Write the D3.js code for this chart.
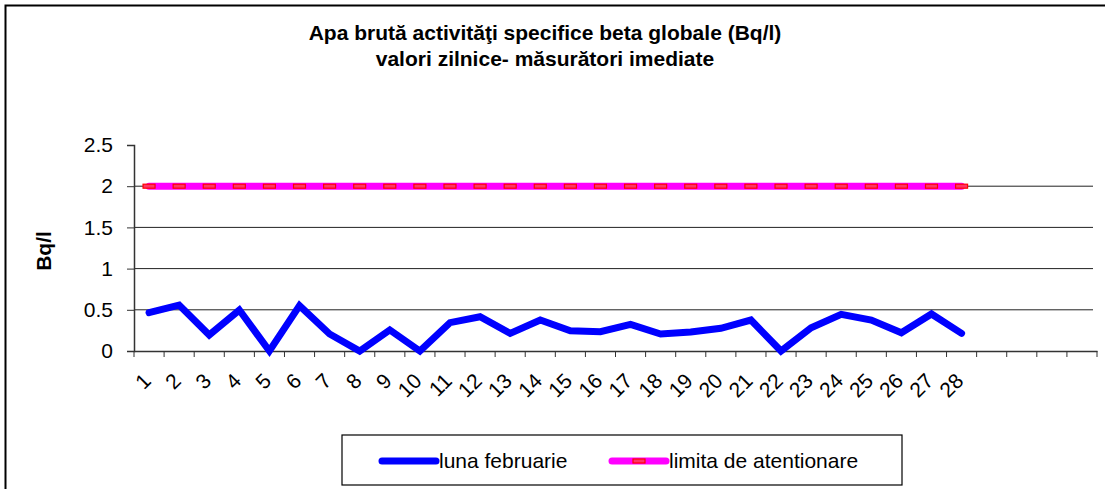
<!DOCTYPE html>
<html><head><meta charset="utf-8">
<script src="https://cdn.jsdelivr.net/npm/d3@7"></script>
<style>body{margin:0;background:#fff}svg{display:block;font-family:"Liberation Sans",Arial,sans-serif}</style>
</head><body>
<svg id="c" width="1105" height="489"></svg>
<script>
const categories = d3.range(1, 33).map(String); // 32 slots, 1..28 labelled
const tickLabels = d3.range(1, 29).map(String);
const days = d3.range(1, 29).map(String);
const valuesFeb = [0.465,0.558,0.194,0.497,0.0,0.55,0.206,0.0,0.255,0.0,0.344,0.416,0.214,0.376,0.246,0.234,0.324,0.206,0.231,0.275,0.376,0.0,0.283,0.445,0.376,0.222,0.449,0.214];
const valuesLimit = days.map(() => 2);
const yTicks = [0, 0.5, 1, 1.5, 2, 2.5];
const titleLines = ["Apa brută activităţi specifice beta globale (Bq/l)", "valori zilnice- măsurători imediate"];

const svg = d3.select("#c");
// outer frame
svg.append("rect").attr("x",5.5).attr("y",5.5).attr("width",1110).attr("height",500)
  .attr("fill","none").attr("stroke","#000").attr("stroke-width",2);

const L = 134, R = 1097, T = 145, B = 351;
const x = d3.scaleBand().domain(categories).range([L, R]);
const y = d3.scaleLinear().domain([0, 2.5]).range([B, T]);
const cx = d => x(d) + x.bandwidth()/2;

// title
svg.append("g").selectAll("text").data(titleLines).join("text")
  .attr("x", 545).attr("y", (d,i) => 40 + i*26).attr("text-anchor","middle")
  .attr("font-weight","bold").attr("font-size",21).text(d => d);

// gridlines
svg.append("g").selectAll("line").data(yTicks.filter(v => v > 0 && v < 2.5)).join("line")
  .attr("x1", L).attr("x2", R - 4).attr("y1", d => y(d)).attr("y2", d => y(d))
  .attr("stroke", "#222").attr("stroke-width", 1);

// y axis
const ya = svg.append("g").attr("transform", `translate(${L},0)`)
  .call(d3.axisLeft(y).tickValues(yTicks).tickSize(7).tickPadding(14).tickFormat(d3.format("")));
ya.select(".domain").attr("stroke","#333").attr("stroke-width",1.5);
ya.selectAll(".tick line").attr("stroke","#333");
ya.selectAll("text").attr("font-size",21).attr("fill","#000").attr("font-family","Liberation Sans, Arial, sans-serif");

// x axis
const xa = svg.append("g").attr("transform", `translate(0,${B})`)
  .call(d3.axisBottom(x).tickSize(0).tickFormat(""));
xa.select(".domain").attr("stroke","#333").attr("stroke-width",1.5);
const bounds = categories.map(c => x(c)).concat([R]);
svg.append("g").selectAll("line").data(bounds).join("line")
  .attr("x1", d => d).attr("x2", d => d).attr("y1", B).attr("y2", B + 6)
  .attr("stroke","#333").attr("stroke-width",1);
svg.append("g").selectAll("text").data(tickLabels).join("text")
  .attr("transform", d => `translate(${cx(d) - 2},${B + 26}) rotate(-45)`)
  .attr("text-anchor","end").attr("dy","0.35em").attr("font-size",21).text(d => d);

// y label
svg.append("text").attr("transform","translate(51,251) rotate(-90)")
  .attr("text-anchor","middle").attr("font-weight","bold").attr("font-size",21).text("Bq/l");

// limit line
const lineGen = d3.line().x((d,i) => cx(days[i])).y(d => y(d));
svg.append("path").datum(valuesLimit).attr("d", lineGen).attr("fill","none")
  .attr("stroke","#ff00ff").attr("stroke-width",7).attr("stroke-linecap","round");
svg.append("g").selectAll("rect").data(valuesLimit).join("rect")
  .attr("x", (d,i) => cx(days[i]) - 6).attr("y", d => y(d) - 2)
  .attr("width", 12).attr("height", 4)
  .attr("fill","#ff3366").attr("stroke","#ff0000").attr("stroke-width",1.2);

// february line
svg.append("path").datum(valuesFeb).attr("d", lineGen).attr("fill","none")
  .attr("stroke","#0000ff").attr("stroke-width",7).attr("stroke-linejoin","miter").attr("stroke-linecap","round");

// legend
const lg = svg.append("g");
lg.append("rect").attr("x",342).attr("y",435).attr("width",560).attr("height",50)
  .attr("fill","#fff").attr("stroke","#000").attr("stroke-width",1.2);
lg.append("line").attr("x1",382).attr("x2",436).attr("y1",461).attr("y2",461)
  .attr("stroke","#0000ff").attr("stroke-width",7).attr("stroke-linecap","round");
lg.append("text").attr("x",439).attr("y",468).attr("font-size",21).text("luna februarie");
lg.append("line").attr("x1",612).attr("x2",666).attr("y1",461).attr("y2",461)
  .attr("stroke","#ff00ff").attr("stroke-width",7).attr("stroke-linecap","round");
lg.append("rect").attr("x",633).attr("y",459).attr("width",12).attr("height",4)
  .attr("fill","#ff3366").attr("stroke","#ff0000").attr("stroke-width",1.2);
lg.append("text").attr("x",669).attr("y",468).attr("font-size",21).text("limita de atentionare");
</script>
</body></html>
